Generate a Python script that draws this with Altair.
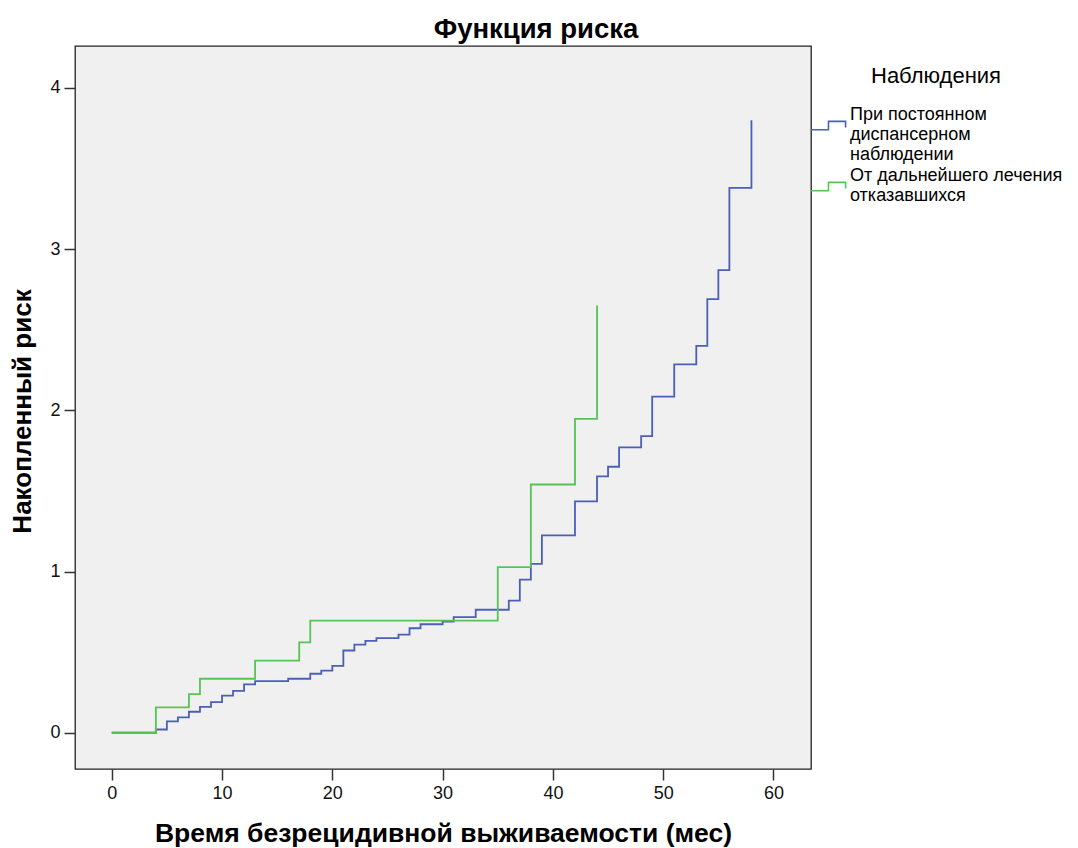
import altair as alt
import pandas as pd

# Cumulative hazard, group under regular follow-up
months_follow = [0, 4, 5, 6, 7, 8, 9, 10, 11, 12, 13, 16, 18, 19, 20, 21, 22, 23, 24, 26,
                 27, 28, 30, 31, 33, 36, 37, 38, 39, 42, 44, 45, 46, 48, 49, 51, 53, 54,
                 55, 56, 58]
risk_follow = [0.0, 0.02, 0.07, 0.095, 0.13, 0.16, 0.19, 0.23, 0.26, 0.30, 0.32, 0.335,
               0.366, 0.385, 0.415, 0.51, 0.546, 0.57, 0.587, 0.608, 0.648, 0.673, 0.69,
               0.717, 0.763, 0.82, 0.95, 1.048, 1.224, 1.435, 1.59, 1.65, 1.77, 1.84,
               2.085, 2.285, 2.40, 2.69, 2.87, 3.38, 3.80]

# Cumulative hazard, group that refused further treatment
months_refused = [0, 4, 7, 8, 13, 17, 18, 35, 38, 42, 44]
risk_refused = [0.0, 0.157, 0.24, 0.335, 0.447, 0.56, 0.695, 1.027, 1.54, 1.947, 2.65]

groups = ["При постоянном диспансерном наблюдении",
          "От дальнейшего лечения отказавшихся"]
group_lines = [["При постоянном", "диспансерном", "наблюдении"],
               ["От дальнейшего лечения", "отказавшихся"]]
colors = ["#4b5fb6", "#55c455"]
x_ticks = [0, 10, 20, 30, 40, 50, 60]
y_ticks = [0, 1, 2, 3, 4]

df = pd.concat([
    pd.DataFrame({"month": months_follow, "risk": risk_follow, "group": groups[0]}),
    pd.DataFrame({"month": months_refused, "risk": risk_refused, "group": groups[1]}),
], ignore_index=True)

label_expr = " : ".join(
    f"datum.label == '{g}' ? {lines!r}" for g, lines in zip(groups, group_lines)
) + " : datum.label"

FONT = "Liberation Sans"

chart = alt.Chart(df).mark_line(interpolate="step-after", strokeWidth=1.8).encode(
    x=alt.X("month:Q",
            scale=alt.Scale(domain=[-3.33, 63.4], nice=False, zero=False),
            axis=alt.Axis(values=x_ticks, title="Время безрецидивной выживаемости (мес)",
                          titleX=368, titleY=64, titleBaseline="middle",
                          titleFontSize=26.5, titleFontWeight="bold")),
    y=alt.Y("risk:Q",
            scale=alt.Scale(domain=[-0.225, 4.26], nice=False, zero=False),
            axis=alt.Axis(values=y_ticks, title="Накопленный риск",
                          titleX=-53, titleY=365, titleBaseline="middle",
                          titleAlign="center", titleAngle=-90,
                          titleFontSize=26, titleFontWeight="bold")),
    color=alt.Color("group:N",
                    scale=alt.Scale(domain=groups, range=colors),
                    legend=alt.Legend(
                        title="Наблюдения", orient="none", legendX=735, legendY=20,
                        titleFontSize=22, titleFontWeight="normal", titleAnchor="middle",
                        titlePadding=16, titleColor="#000",
                        labelFontSize=18, labelColor="#000", labelOffset=0,
                        labelBaseline="bottom",
                        labelExpr=label_expr, labelLimit=300,
                        symbolType="M-1,0.3H-0.08V-0.14H0.82V0.18",
                        symbolSize=1444, symbolStrokeWidth=1.6,
                        symbolFillColor="transparent", rowPadding=1)),
).properties(
    width=736, height=723,
    title=alt.TitleParams("Функция риска", fontSize=27.5, fontWeight="bold",
                          color="#000", dx=93, offset=3),
    autosize=alt.AutoSizeParams(type="none"),
    padding={"left": 75, "top": 46, "right": 267, "bottom": 79},
).configure(
    font=FONT,
    background="white",
).configure_view(
    fill="#f0f0f0", stroke="#222", strokeWidth=1.3,
).configure_axis(
    domain=False, grid=False, ticks=True, tickSize=11, tickWidth=1.5,
    tickColor="#333", labelFontSize=18, labelColor="#111", labelPadding=4,
    titleColor="#000",
)

chart.save("out.html", embed_options={"renderer": "svg", "actions": False})
